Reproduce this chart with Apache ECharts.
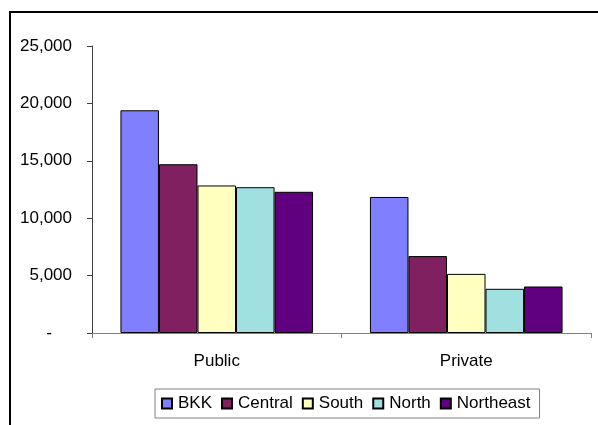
<!DOCTYPE html>
<html>
<head>
<meta charset="utf-8">
<script src="https://cdn.jsdelivr.net/npm/echarts@6/dist/echarts.min.js"></script>
<style>
  html, body { margin: 0; padding: 0; background: #fff; }
  #chart { width: 598px; height: 425px; }
</style>
</head>
<body>
<div id="chart"></div>
<script>
// Sector categories and regional series
const categories = ['Public', 'Private'];
const regions = ['BKK', 'Central', 'South', 'North', 'Northeast'];
const bkk = [19400, 11850];
const central = [14700, 6700];
const south = [12850, 5150];
const north = [12700, 3850];
const northeast = [12300, 4050];
const yTicks = [0, 5000, 10000, 15000, 20000, 25000];

const seriesValues = [bkk, central, south, north, northeast];
const colors = ['#8080FF', '#802060', '#FFFFC0', '#A0E0E0', '#600080'];
const font = 'Liberation Sans, Arial, sans-serif';

const chart = echarts.init(document.getElementById('chart'), null, { renderer: 'canvas' });

chart.setOption({
  animation: false,
  backgroundColor: '#fff',
  graphic: [{
    type: 'rect',
    shape: { x: 10, y: 12, width: 700, height: 600 },
    style: { fill: 'none', stroke: '#000', lineWidth: 2 },
    silent: true,
    z: -1
  }],
  grid: { left: 92, right: 7, top: 46, bottom: 92, containLabel: false },
  legend: {
    data: regions,
    left: 155,
    top: 389,
    padding: [6, 9, 6, 6],
    itemWidth: 10,
    itemHeight: 10,
    itemGap: 9,
    icon: 'rect',
    borderColor: '#808080',
    borderWidth: 1,
    textStyle: { fontFamily: font, fontSize: 17, color: '#000', padding: [0, 0, 0, 1] }
  },
  xAxis: {
    type: 'category',
    data: categories,
    axisLine: { lineStyle: { color: '#808080', width: 1 } },
    axisTick: { show: true, alignWithLabel: false, length: 5, lineStyle: { color: '#808080' } },
    axisLabel: { fontFamily: font, fontSize: 17, color: '#000', margin: 20 }
  },
  yAxis: {
    type: 'value',
    min: yTicks[0],
    max: yTicks[yTicks.length - 1],
    interval: yTicks[1] - yTicks[0],
    splitLine: { show: false },
    axisLine: { show: true, lineStyle: { color: '#404040', width: 1 } },
    axisTick: { show: true, length: 5, lineStyle: { color: '#404040' } },
    axisLabel: {
      fontFamily: font, fontSize: 17, color: '#000', margin: 20,
      formatter: v => v === 0 ? '{dash|-}' : v.toLocaleString('en-US'),
      rich: { dash: { fontFamily: font, fontSize: 17, color: '#000', padding: [0, 20, 0, 0] } }
    }
  },
  series: regions.map((name, i) => ({
    name,
    type: 'bar',
    data: seriesValues[i],
    barGap: '0%',
    barCategoryGap: '22.8%',
    itemStyle: { color: colors[i], borderColor: '#000', borderWidth: 1 }
  }))
});
</script>
</body>
</html>
